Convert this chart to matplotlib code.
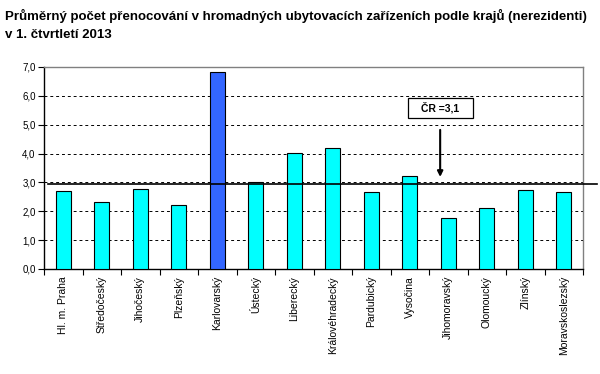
import matplotlib
matplotlib.use("Agg")
import matplotlib.pyplot as plt
from matplotlib.patches import Rectangle
import numpy as np

plt.rcParams['font.family'] = ['Liberation Sans', 'DejaVu Sans']

categories = ["Hl. m. Praha", "Středočeský", "Jihočeský", "Plzeňský", "Karlovarský",
              "Ústecký", "Liberecký", "Královéhradecký", "Pardubický", "Vysočina",
              "Jihomoravský", "Olomoucký", "Zlínský", "Moravskoslezský"]
values = [2.70, 2.32, 2.77, 2.21, 6.82, 3.01, 4.01, 4.19, 2.66, 3.22, 1.76, 2.11, 2.73, 2.66]
cr_line = 2.93
cr_label = "ČR =3,1"
yticks = [0, 1, 2, 3, 4, 5, 6, 7]
title_lines = ["Průměrný počet přenocování v hromadných ubytovacích zařízeních podle krajů (nerezidenti)",
               "v 1. čtvrtletí 2013"]

fig = plt.figure(figsize=(6, 3.74), dpi=100)
W, H = 600, 374
ax = fig.add_axes([44 / W, 1 - 269 / H, (583 - 44) / W, (269 - 67) / H])

x = np.arange(len(categories))
colors = ['#00FFFF'] * len(categories)
colors[4] = '#3366FF'
ax.bar(x, values, width=0.39, color=colors, edgecolor='black', linewidth=0.8, zorder=3)

ax.set_xlim(-0.5, len(categories) - 0.5)
ax.set_ylim(0, 7)
ax.set_yticks(yticks)
ax.set_yticklabels([f"{v:.1f}".replace('.', ',') for v in yticks], fontsize=7)
for v in yticks[1:-1]:
    ax.axhline(v, color='black', linestyle=(0, (3, 3)), linewidth=0.7, zorder=1)

ax.set_xticks(np.arange(len(categories) + 1) - 0.5, minor=False)
ax.set_xticklabels([])
ax.set_xticks(x, minor=True)
ax.set_xticklabels(categories, minor=True, rotation=90, fontsize=7.5)
ax.tick_params(axis='x', which='minor', length=0, pad=5)
ax.tick_params(axis='x', which='major', length=4, direction='out')
ax.tick_params(axis='y', length=4, direction='out', pad=2)

for s in ['left', 'bottom']:
    ax.spines[s].set_color('black')
    ax.spines[s].set_linewidth(1.0)
for s in ['top', 'right']:
    ax.spines[s].set_color('#808080')
    ax.spines[s].set_linewidth(1.0)

# national average line extending past the axes
px = (583 - 44) / 14
x0 = -0.5 + (48 - 44) / px
x1 = -0.5 + (597 - 44) / px
ax.plot([x0, x1], [cr_line, cr_line], color='black', linewidth=1.2, clip_on=False, zorder=4)

# annotation box and arrow
bx0, bx1 = 8.955, 10.64
by0, by1 = 5.23, 5.93
ax.add_patch(Rectangle((bx0, by0), bx1 - bx0, by1 - by0, facecolor='white',
                       edgecolor='black', linewidth=0.9, zorder=5))
ax.text((bx0 + bx1) / 2, (by0 + by1) / 2, cr_label, ha='center', va='center',
        fontsize=7.5, fontweight='bold', zorder=6)
ax.annotate('', xy=(9.79, 3.19), xytext=(9.79, 4.82),
            arrowprops=dict(arrowstyle='-|>', color='black', lw=1.5,
                            shrinkA=0, shrinkB=0, mutation_scale=8), zorder=6)

fig.text(5 / W, 1 - 20 / H, title_lines[0], ha='left', va='baseline', fontsize=9.5,
         fontweight='bold')
fig.text(5 / W, 1 - 38 / H, title_lines[1], ha='left', va='baseline', fontsize=9.5,
         fontweight='bold')

fig.savefig('out.png', dpi=100)
